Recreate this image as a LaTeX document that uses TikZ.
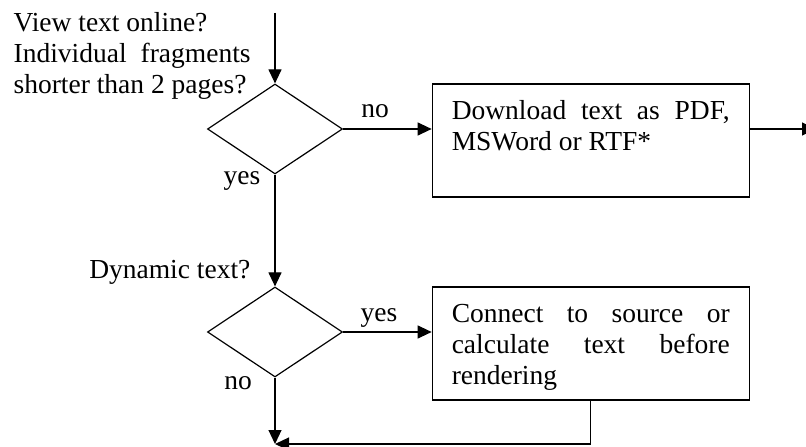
\documentclass[tikz,border=0pt]{standalone}
\usepackage{fontspec}
\setmainfont{Liberation Serif}
\usetikzlibrary{shapes.geometric,arrows.meta}

\tikzset{
  decision/.style={draw,diamond,minimum width=135bp,minimum height=90bp,inner sep=0pt},
  process/.style={draw,rectangle,inner xsep=19.5bp,inner ysep=0pt},
  tag/.style={inner sep=0pt,anchor=base},
}
\newcommand{\boxtext}[1]{\parbox[c][113bp][t]{278bp}{\rule{0pt}{35.5bp}#1}}

\begin{document}
\begin{tikzpicture}[x=1bp,y=-1bp,line width=1.2bp,>={Triangle[length=14bp,width=13bp]},font=\fontsize{27.5bp}{31bp}\selectfont]
%%
\useasboundingbox (0,0) rectangle (806,447);
\clip (0,0) rectangle (806,447);
%%
\coordinate (top) at (275,13);
\node[decision] (online) at (275,129) {};
\node[process] (download) at (590.75,140.5) {\boxtext{Download\hfill text\hfill as\hfill PDF,\\MSWord or RTF*}};
\coordinate (exit) at (816,129);
\node[decision] (dynamic) at (275,332) {};
\node[process] (connect) at (590.75,343.5) {\boxtext{Connect\hfill to\hfill source\hfill or\\calculate\hfill text\hfill before\\rendering}};
\coordinate (join) at (275,444);
\coordinate (corner) at (connect.south |- join);
%
\node[tag,anchor=base west] (qonline) at (13,32) {\parbox[t]{237bp}{\raggedright View text online?\\Individual\hfill fragments\\shorter than 2 pages?}};
\node[tag,anchor=base east] (qdynamic) at (251,279) {Dynamic text?};
\node[tag] (no1) at (375,118) {no};
\node[tag] (yes1) at (242,185) {yes};
\node[tag] (yes2) at (379,322) {yes};
\node[tag] (no2) at (238,389) {no};
%
\draw [->] (top) -- (online.north);
\draw [->] (online.east) -- (online.east -| download.west);
\draw [->] (download.east |- online.east) -- (exit);
\draw [->] (online.south) -- (dynamic.north);
\draw [->] (dynamic.east) -- (dynamic.east -| connect.west);
\draw [->] (dynamic.south) -- (join);
\draw [->] (connect.south) -- (corner) -- (join);
%
\end{tikzpicture}
\end{document}
